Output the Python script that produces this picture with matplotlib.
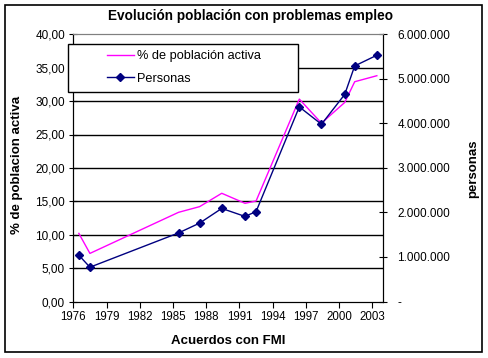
import matplotlib
matplotlib.use("Agg")
import matplotlib.pyplot as plt
from matplotlib.patches import Rectangle
from matplotlib.ticker import FuncFormatter

plt.rcParams["font.family"] = ["Liberation Sans", "DejaVu Sans"]

# data
years = [1976.5, 1977.5, 1985.5, 1987.4, 1989.4, 1991.5, 1992.5,
         1996.4, 1998.4, 2000.5, 2001.4, 2003.4]
pct_activa = [10.2, 7.2, 13.35, 14.2, 16.2, 14.7, 15.05,
              30.3, 26.7, 29.8, 32.9, 33.8]
personas = [1040000, 770000, 1540000, 1760000, 2090000, 1910000, 2020000,
            4370000, 3980000, 4650000, 5290000, 5530000]
xticks = list(range(1976, 2004, 3))
title = "Evolución población con problemas empleo"


def fmt_pct(v, pos):
    return f"{v:.2f}".replace(".", ",")


def fmt_personas(v, pos):
    if abs(v) < 1:
        return "-"
    return f"{int(round(v)):,}".replace(",", ".")


W, H = 489, 358
fig = plt.figure(figsize=(W / 100, H / 100), dpi=100)
ax = fig.add_axes([73.3 / W, 1 - 301.5 / H, (383.5 - 73.3) / W, (301.5 - 34.3) / H])
ax2 = ax.twinx()

# chart area border
fig.patches.append(Rectangle((5 / W, 1 - 352 / H), 477 / W, 347 / H,
                             transform=fig.transFigure, fill=False,
                             edgecolor="black", linewidth=1.2))

ax.set_xlim(1976, 2004)
ax.set_ylim(0, 40)
ax2.set_ylim(0, 6000000)

for v in range(5, 40, 5):
    ax.axhline(v, color="black", linewidth=1.0, zorder=1)

l1, = ax.plot(years, pct_activa, color="#FF00FF", linewidth=1.0,
              label="% de población activa", zorder=3)
l2, = ax2.plot(years, personas, color="#000080", linewidth=1.0, marker="D",
               markersize=4, label="Personas", zorder=3)

ax.set_xticks(xticks)
ax.set_yticks(range(0, 45, 5))
ax2.set_yticks(range(0, 7000000, 1000000))
ax.yaxis.set_major_formatter(FuncFormatter(fmt_pct))
ax2.yaxis.set_major_formatter(FuncFormatter(fmt_personas))

ax.tick_params(axis="x", direction="out", length=4, labelsize=8.3, pad=3)
ax.tick_params(axis="y", direction="inout", length=6, labelsize=8.5, pad=3)
ax2.tick_params(axis="y", direction="inout", length=6, labelsize=8.5, pad=7)

for a in (ax, ax2):
    a.spines["top"].set_color("#808080")
    for s in ("left", "right", "bottom"):
        a.spines[s].set_color("black")

# titles and axis labels
fig.text(251 / W, 1 - 16 / H, title, ha="center", va="center",
         fontsize=9.8, fontweight="bold")
fig.text(228.5 / W, 1 - 341 / H, "Acuerdos con FMI", ha="center", va="center",
         fontsize=9.5, fontweight="bold")
fig.text(17 / W, 1 - 165 / H, "% de poblacion activa", ha="center", va="center",
         rotation=90, fontsize=9.5, fontweight="bold")
fig.text(473 / W, 1 - 169 / H, "personas", ha="center", va="center",
         rotation=90, fontsize=9.5, fontweight="bold")

# legend box (Excel style, wider than its content)
ax2.add_patch(Rectangle((-0.0161, 0.7852), 0.7414, 0.1774, transform=ax2.transAxes,
                        facecolor="white", edgecolor="black", linewidth=1.0,
                        clip_on=False, zorder=9))
leg = ax2.legend([l1, l2], [l1.get_label(), l2.get_label()],
                 loc="center left", bbox_to_anchor=(0.1086, 0.8757),
                 fontsize=9.2, frameon=False, borderpad=0, borderaxespad=0,
                 handlelength=2.08, handletextpad=0.3, labelspacing=0.85)
leg.set_zorder(10)

fig.savefig("out.png", dpi=100)
